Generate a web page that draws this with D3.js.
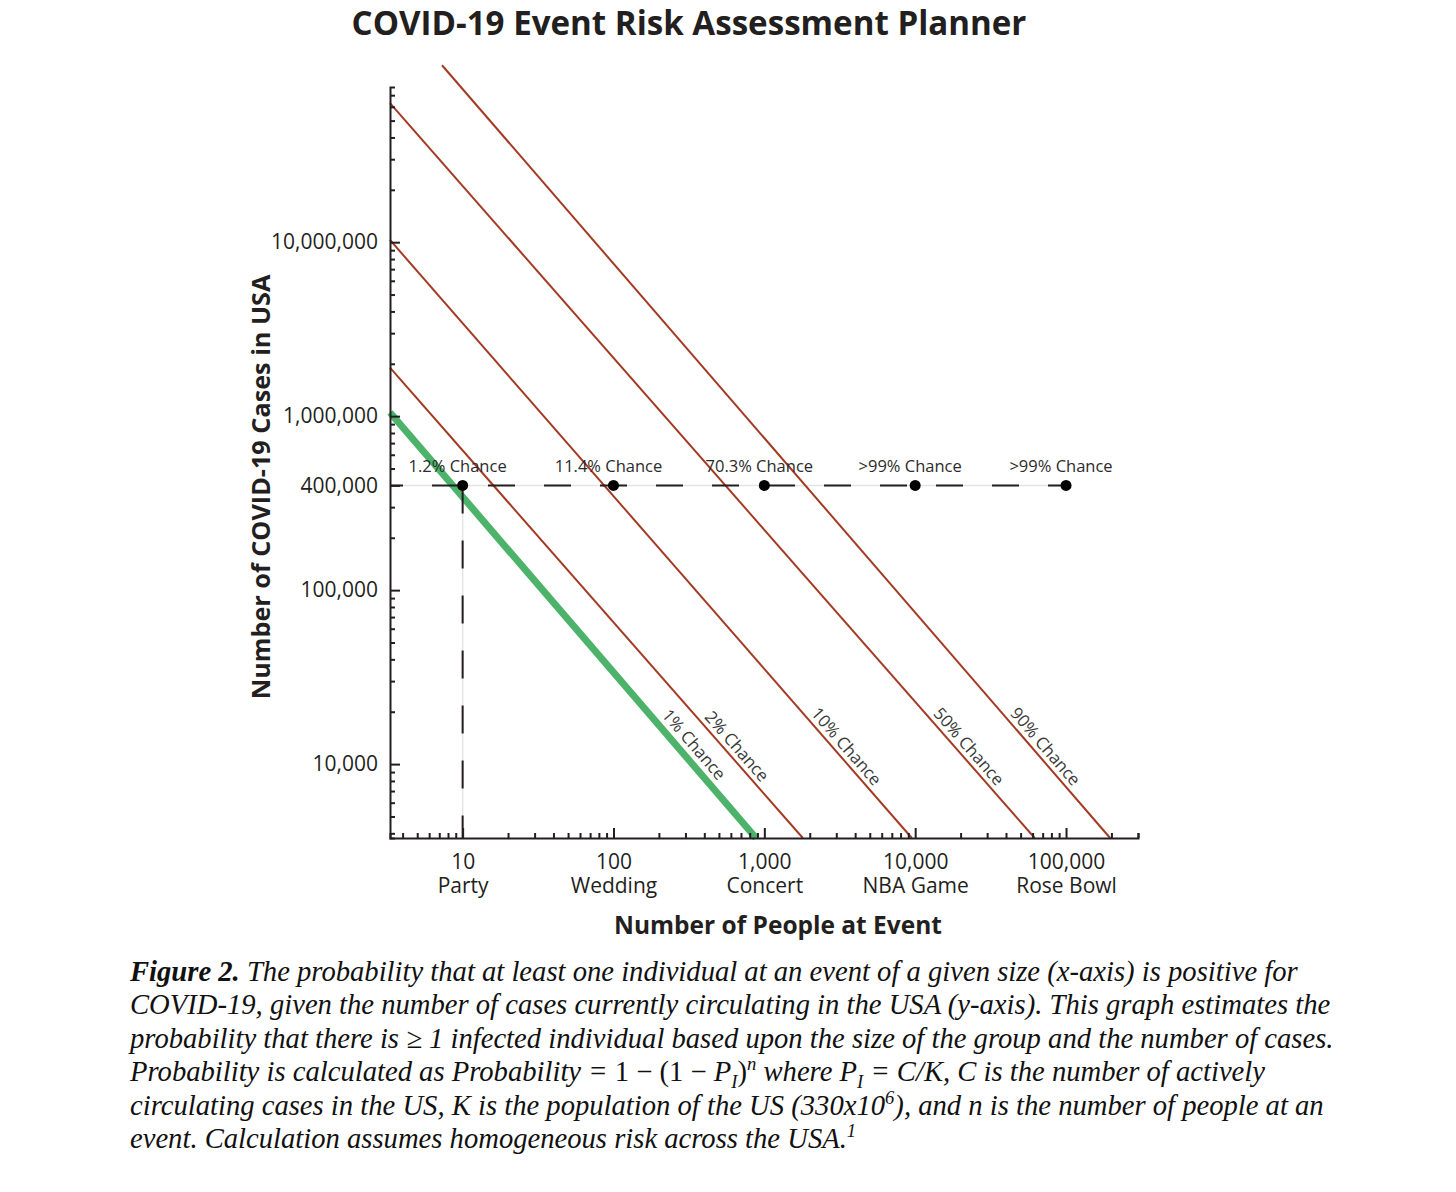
<!DOCTYPE html>
<html>
<head>
<meta charset="utf-8">
<script src="https://cdn.jsdelivr.net/npm/d3@7"></script>
<style>
    body { margin: 0; background: #fff; }
    svg text { font-family: "Open Sans", "Noto Sans", sans-serif; fill: #231f20; }
</style>
</head>
<body>
<svg id="chart" width="1456" height="1192"></svg>
<script>
// ---- data ----
var eventSizes = [10, 100, 1000, 10000, 100000];
var eventNames = ["Party", "Wedding", "Concert", "NBA Game", "Rose Bowl"];
var eventChance = ["1.2% Chance", "11.4% Chance", "70.3% Chance", ">99% Chance", ">99% Chance"];
var eventCases = 400000;

var caseTicks = [10000, 100000, 400000, 1000000, 10000000];
var caseTickLabels = ["10,000", "100,000", "400,000", "1,000,000", "10,000,000"];

var lineLabels = ["1% Chance", "2% Chance", "10% Chance", "50% Chance", "90% Chance"];
var lineStartPeople = [3.3, 3.3, 3.3, 3.3, 7.3];
var lineStartCases = [1.05e6, 1.9e6, 1.03e7, 6.3e7, 1.04e8];
var lineEndPeople = [880, 1800, 9500, 62000, 196000];
var lineEndCases = [3760, 3760, 3760, 3760, 3760];
var lineLabelCases = 11500;

var peopleDomain = [3.3, 300000];
var casesDomain = [3760, 7.8e7];

var captionLines = [
    [["Figure 2.", "bi"], [" The probability that at least one individual at an event of a given size (x-axis) is positive for", "i"]],
    [["COVID-19, given the number of cases currently circulating in the USA (y-axis). This graph estimates the", "i"]],
    [["probability that there is \u2265 1 infected individual based upon the size of the group and the number of cases.", "i"]],
    [["Probability is calculated as Probability = ", "i"], ["1 \u2212 (1 \u2212 ", "r"], ["P", "i"], ["I", "sub"], [")", "r"], ["n", "sup"],
     [" where P", "i"], ["I", "sub"], [" = C/K, C is the number of actively", "i"]],
    [["circulating cases in the US, K is the population of the US (330x10", "i"], ["6", "sup"], ["), and n is the number of people at an", "i"]],
    [["event. Calculation assumes homogeneous risk across the USA.", "i"], ["1", "sup"]]
];

var ink = "#231f20";
var red = "#a33b24";
var green = "#4db36a";

var svg = d3.select("#chart");
svg.append("rect").attr("width", 1456).attr("height", 1192).attr("fill", "#fff");

var x = d3.scaleLog().domain(peopleDomain).range([390, 1138]);
var y = d3.scaleLog().domain(casesDomain).range([838, 87]);

function fitWidth(sel, w) {
    var len = sel.node().getComputedTextLength();
    var fs = parseFloat(sel.attr("font-size"));
    sel.attr("font-size", fs * w / len);
}

// title
var title = svg.append("text")
    .attr("x", 689).attr("y", 35)
    .attr("text-anchor", "middle")
    .attr("font-size", 30).attr("font-weight", 700)
    .text("COVID-19 Event Risk Assessment Planner");
fitWidth(title, 675);

// guide lines under the dashes
var yEv = y(eventCases);
svg.append("line")
    .attr("x1", x.range()[0]).attr("x2", x(eventSizes[eventSizes.length - 1]))
    .attr("y1", yEv).attr("y2", yEv)
    .attr("stroke", "#e4e4e4").attr("stroke-width", 1.5);
svg.append("line")
    .attr("x1", x(eventSizes[0])).attr("x2", x(eventSizes[0]))
    .attr("y1", yEv).attr("y2", y.range()[0])
    .attr("stroke", "#e4e4e4").attr("stroke-width", 1.5);

// probability lines
var lines = svg.append("g").attr("class", "chance-lines");
lineLabels.forEach(function(lab, i) {
    var isGreen = i === 0;
    var x0 = x(lineStartPeople[i]), y0 = y(lineStartCases[i]);
    var x1 = x(lineEndPeople[i]), y1 = y(lineEndCases[i]);

    lines.append("line")
        .attr("x1", x0).attr("y1", y0).attr("x2", x1).attr("y2", y1)
        .attr("stroke", isGreen ? green : red)
        .attr("stroke-width", isGreen ? 7 : 2);

    // label sits on the line at lineLabelCases
    var t = (Math.log(lineLabelCases) - Math.log(lineStartCases[i])) /
            (Math.log(lineEndCases[i]) - Math.log(lineStartCases[i]));
    var n = Math.exp(Math.log(lineStartPeople[i]) + t * (Math.log(lineEndPeople[i]) - Math.log(lineStartPeople[i])));
    var ang = Math.atan2(y1 - y0, x1 - x0) * 180 / Math.PI;

    lines.append("text")
        .attr("transform", "translate(" + x(n) + "," + y(lineLabelCases) + ") rotate(" + ang + ")")
        .attr("text-anchor", "middle")
        .attr("dy", isGreen ? -8 : -5)
        .attr("font-size", 17)
        .style("fill", "#3a3a3a")
        .text(lab);
});

// dashed event lines
svg.append("line")
    .attr("x1", x.range()[0]).attr("x2", x(eventSizes[eventSizes.length - 1]))
    .attr("y1", yEv).attr("y2", yEv)
    .attr("stroke", ink).attr("stroke-width", 2)
    .attr("stroke-dasharray", "27 29").attr("stroke-dashoffset", 14);
svg.append("line")
    .attr("x1", x(eventSizes[0])).attr("x2", x(eventSizes[0]))
    .attr("y1", yEv).attr("y2", y.range()[0])
    .attr("stroke", ink).attr("stroke-width", 2)
    .attr("stroke-dasharray", "28 27");

// event points and their chance labels
svg.append("g").selectAll("circle")
    .data(eventSizes)
    .join("circle")
    .attr("cx", function(d) { return x(d); })
    .attr("cy", yEv)
    .attr("r", 5.5)
    .attr("fill", "#000");

svg.append("g").selectAll("text")
    .data(eventSizes)
    .join("text")
    .attr("x", function(d) { return x(d) - 5; })
    .attr("y", yEv - 13)
    .attr("text-anchor", "middle")
    .attr("font-size", 16.5)
    .style("fill", "#2b2b2b")
    .text(function(d, i) { return eventChance[i]; });

// axes
function styleAxis(g) {
    g.selectAll("path, line").attr("stroke", ink).attr("stroke-width", 2);
    g.attr("font-family", null).attr("font-size", null);
}

var yMinor = d3.axisLeft(y)
    .tickValues(y.ticks().filter(function(v) { return caseTicks.indexOf(v) < 0; }))
    .tickSize(-5).tickSizeOuter(-5).tickFormat("");
var yMajor = d3.axisLeft(y)
    .tickValues(caseTicks).tickSize(-10).tickSizeOuter(0).tickPadding(12)
    .tickFormat(function(d, i) { return caseTickLabels[i]; });

svg.append("g").attr("transform", "translate(" + x.range()[0] + ",0)").call(yMinor).call(styleAxis);
var gyMajor = svg.append("g").attr("transform", "translate(" + x.range()[0] + ",0)").call(yMajor).call(styleAxis);
gyMajor.select(".domain").remove();
gyMajor.selectAll("text").attr("font-size", 21).style("fill", ink);

var xMinor = d3.axisBottom(x)
    .tickValues(x.ticks().filter(function(v) { return eventSizes.indexOf(v) < 0; }))
    .tickSize(-5).tickSizeOuter(-5).tickFormat("");
var xMajor = d3.axisBottom(x)
    .tickValues(eventSizes).tickSize(-10).tickSizeOuter(0)
    .tickFormat(d3.format(","));

svg.append("g").attr("transform", "translate(0," + y.range()[0] + ")").call(xMinor).call(styleAxis);
var gxMajor = svg.append("g").attr("transform", "translate(0," + y.range()[0] + ")").call(xMajor).call(styleAxis);
gxMajor.select(".domain").remove();
gxMajor.selectAll(".tick text").each(function(d, i) {
    var txt = d3.select(this);
    var num = txt.text();
    txt.text("").attr("y", 0).attr("dy", null).attr("font-size", 21).style("fill", ink);
    txt.append("tspan").attr("x", 0).attr("y", 31).text(num);
    txt.append("tspan").attr("x", 0).attr("y", 55).text(eventNames[i]);
});

// axis titles
var xTitle = svg.append("text")
    .attr("x", 778).attr("y", 934)
    .attr("text-anchor", "middle")
    .attr("font-size", 22).attr("font-weight", 700)
    .text("Number of People at Event");
fitWidth(xTitle, 328);

var yTitle = svg.append("text")
    .attr("transform", "translate(270,487) rotate(-90)")
    .attr("text-anchor", "middle")
    .attr("font-size", 22).attr("font-weight", 700)
    .text("Number of COVID-19 Cases in USA");
fitWidth(yTitle, 425);

// caption
var cap = svg.append("g").attr("class", "caption");
var probe = cap.append("text")
    .attr("font-size", 100)
    .style("font-family", "'Liberation Serif', 'Times New Roman', serif")
    .style("font-style", "italic");
captionLines[0].forEach(function(s) {
    probe.append("tspan").attr("font-weight", s[1] === "bi" ? 700 : 400).text(s[0]);
});
var capSize = 100 * 1168 / probe.node().getComputedTextLength();
probe.remove();

captionLines.forEach(function(segs, li) {
    var t = cap.append("text")
        .attr("x", 130).attr("y", 981 + li * 33.4)
        .attr("font-size", capSize)
        .style("font-family", "'Liberation Serif', 'Times New Roman', serif")
        .style("fill", "#111");
    var shift = 0;
    segs.forEach(function(s) {
        var kind = s[1];
        var target = kind === "sub" ? 0.25 * capSize : kind === "sup" ? -0.38 * capSize : 0;
        var ts = t.append("tspan")
            .attr("dy", target - shift)
            .style("font-style", kind === "r" ? "normal" : "italic")
            .attr("font-weight", kind === "bi" ? 700 : 400)
            .text(s[0]);
        if (kind === "sub" || kind === "sup") ts.attr("font-size", capSize * 0.65);
        shift = target;
    });
});
</script>
</body>
</html>
